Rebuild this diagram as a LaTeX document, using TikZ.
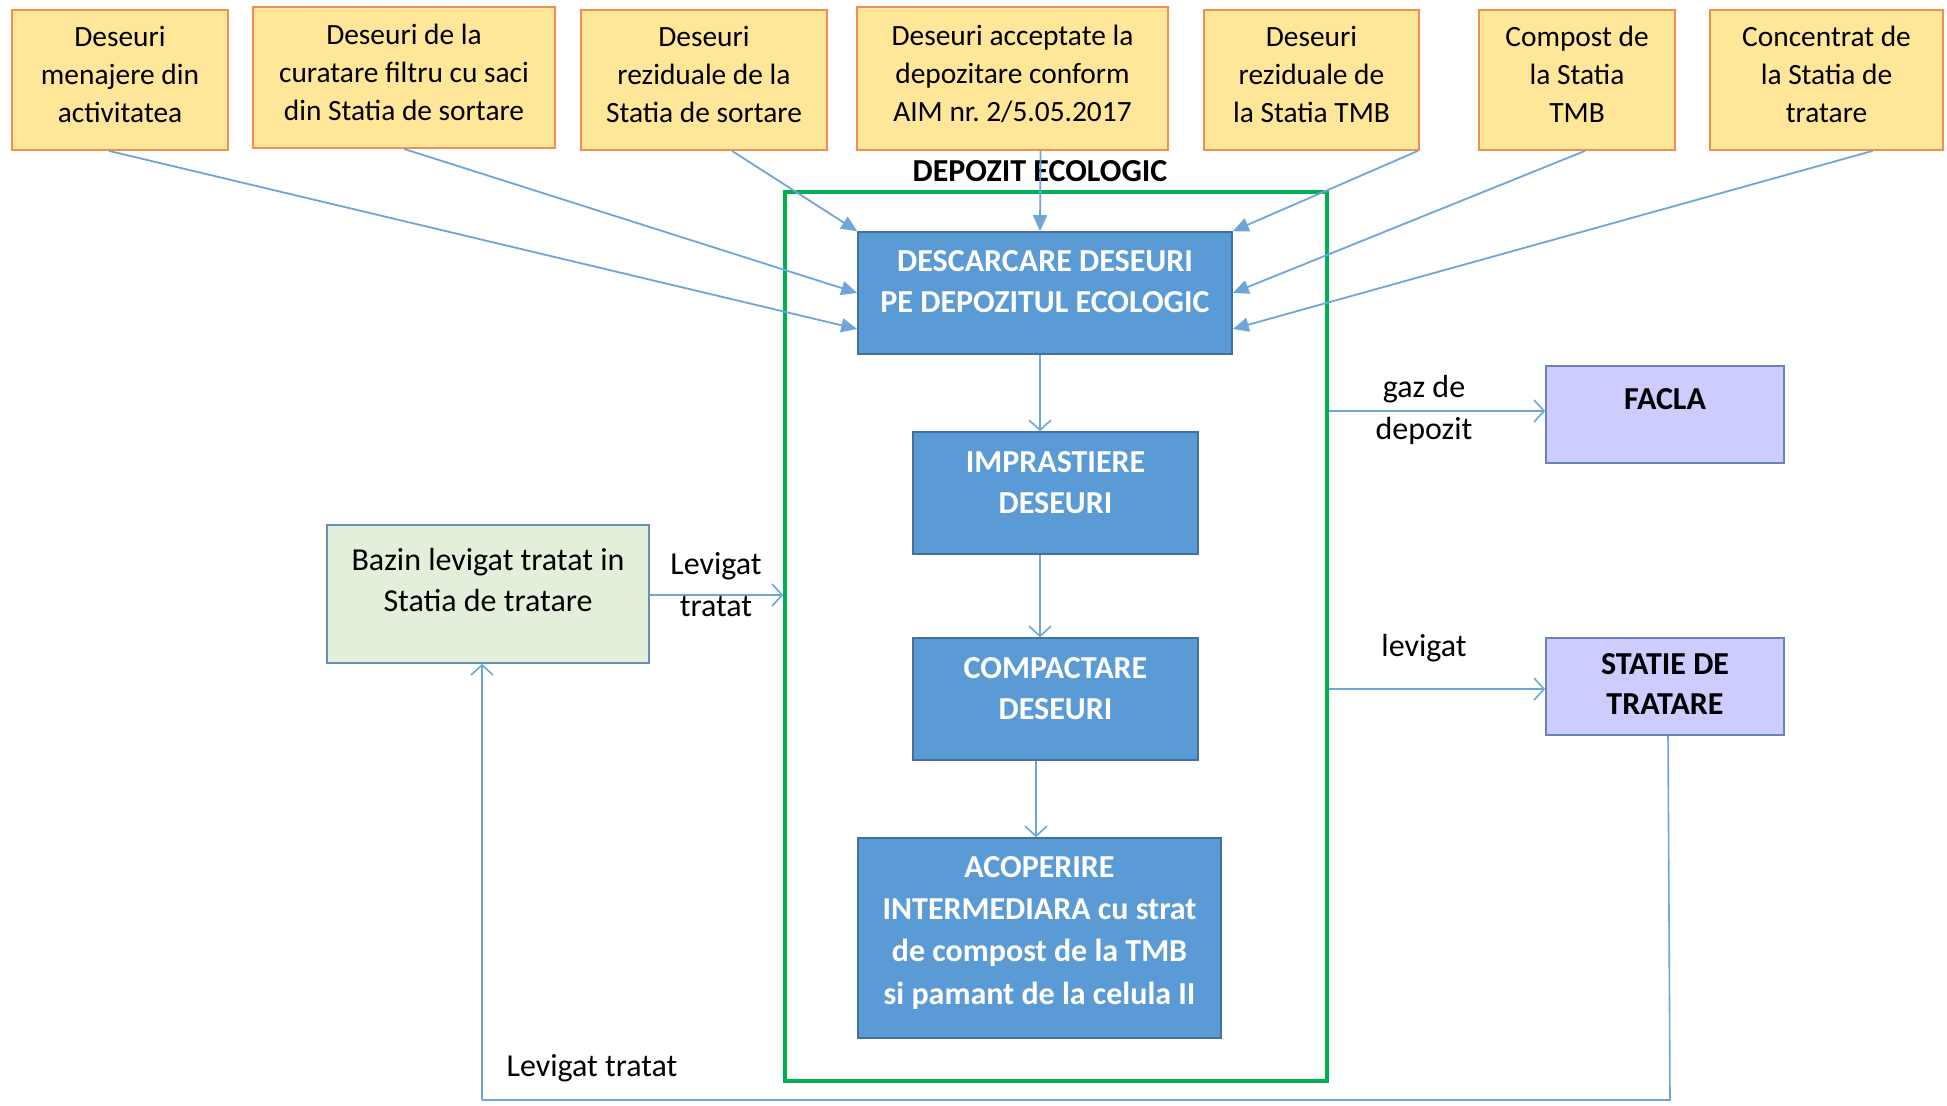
\documentclass[tikz,border=0pt]{standalone}
\usepackage{fontspec}
\setmainfont{Carlito}
\usetikzlibrary{arrows.meta}
\definecolor{topfill}{HTML}{FFE699}
\definecolor{topdraw}{HTML}{F0904E}
\definecolor{bluefill}{HTML}{5B9BD5}
\definecolor{bluedraw}{HTML}{41719C}
\definecolor{greenframe}{HTML}{00B050}
\definecolor{arrowblue}{HTML}{6FA6DA}
\definecolor{bazfill}{HTML}{E2EFDA}
\definecolor{purfill}{HTML}{CCCCFF}
\definecolor{purdraw}{HTML}{6A84B8}
\begin{document}
\begin{tikzpicture}[x=0.5pt,y=-0.5pt,
  topbox/.style={draw=topdraw, fill=topfill, line width=0.9pt, align=center,
    font=\fontsize{14.7}{19}\selectfont, inner sep=0pt, minimum height=70pt, text depth=5.5pt},
  bluebox/.style={draw=bluedraw, fill=bluefill, line width=0.8pt, inner sep=0pt},
  bluetext/.style={text=white, align=center, font=\fontsize{16}{20.5}\selectfont\bfseries, inner sep=0pt},
  sidebox/.style={draw=purdraw, fill=purfill, line width=0.9pt, inner sep=0pt,
    minimum width=119pt, minimum height=48.5pt},
  sidetext/.style={align=center, font=\fontsize{16}{20}\selectfont\bfseries, inner sep=0pt},
  lbl/.style={align=center, font=\fontsize{16}{21}\selectfont, inner sep=0pt},
  filledarrow/.style={draw=arrowblue, line width=0.9pt, -{Triangle[length=8pt,width=7pt]}},
  openarrow/.style={draw=arrowblue, line width=0.8pt, -{Straight Barb[length=5pt,width=11pt]}},
  plainline/.style={draw=arrowblue, line width=0.8pt}
]
\useasboundingbox (0,0) rectangle (1947,1105);
\fill[white] (0,0) rectangle (1947,1105);

% top source boxes
\node[topbox, minimum width=108pt] (t1) at (120,80) {Deseuri\\menajere din\\activitatea};
\node[topbox, minimum width=151pt, minimum height=70.5pt] (t2) at (404,77.5) {Deseuri de la\\curatare filtru cu saci\\din Statia de sortare};
\node[topbox, minimum width=123pt] (t3) at (704,80) {Deseuri\\reziduale de la\\Statia de sortare};
\node[topbox, minimum width=155.5pt, minimum height=71.5pt] (t4) at (1012.5,78.5) {Deseuri acceptate la\\depozitare conform\\AIM nr.\ 2/5.05.2017};
\node[topbox, minimum width=107.5pt] (t5) at (1311.5,80) {Deseuri\\reziduale de\\la Statia TMB};
\node[topbox, minimum width=98pt] (t6) at (1577,80) {Compost de\\la Statia\\TMB};
\node[topbox, minimum width=116.5pt] (t7) at (1826.5,80) {Concentrat de\\la Statia de\\tratare};

% green frame
\node[draw=greenframe, line width=1.8pt, minimum width=271pt, minimum height=444.5pt, inner sep=0pt] (dep) at (1056,636.5) {};
\node[font=\fontsize{16}{20}\selectfont\bfseries, inner sep=0pt] (deptitle) at (1040,171) {DEPOZIT ECOLOGIC};

% process boxes
\node[bluebox, minimum width=187pt, minimum height=61pt] (desc) at (1045,293) {};
\node[bluetext] (desct) at (1045,282) {DESCARCARE DESEURI\\PE DEPOZITUL ECOLOGIC};
\node[bluebox, minimum width=142.5pt, minimum height=61pt] (impr) at (1055.5,493) {};
\node[bluetext] (imprt) at (1055.5,482.5) {IMPRASTIERE\\DESEURI};
\node[bluebox, minimum width=142.5pt, minimum height=61pt] (comp) at (1055.5,699) {};
\node[bluetext] (compt) at (1055.5,688.5) {COMPACTARE\\DESEURI};
\node[bluebox, minimum width=181.5pt, minimum height=100pt] (acop) at (1039.5,938) {};
\node[bluetext, font=\fontsize{16}{21}\selectfont\bfseries] (acopt) at (1039.5,933) {ACOPERIRE\\INTERMEDIARA cu strat\\de compost de la TMB\\si pamant de la celula II};

% side boxes
\node[draw=bluedraw!80, fill=bazfill, line width=0.9pt, inner sep=0pt, minimum width=161pt, minimum height=69pt] (baz) at (488,594) {};
\node[lbl, font=\fontsize{16}{20.5}\selectfont] (bazt) at (488,580) {Bazin levigat tratat in\\Statia de tratare};
\node[sidebox] (facla) at (1665,414.5) {};
\node[sidetext] (faclat) at (1665,399) {FACLA};
\node[sidebox] (stat) at (1665,686.5) {};
\node[sidetext] (statt) at (1665,684) {STATIE DE\\TRATARE};

% inputs to DESCARCARE
\draw[filledarrow] ([xshift=-5.5pt]t1.south) -- ([yshift=-18pt]desc.west);
\draw[filledarrow] (t2.south) -- (desc.west);
\draw[filledarrow] ([xshift=14pt]t3.south) -- (desc.north west);
\draw[filledarrow] ([xshift=14pt]t4.south) -- ([xshift=-2.5pt]desc.north);
\draw[filledarrow] ([xshift=-1pt]t5.south east) -- (desc.north east);
\draw[filledarrow] ([xshift=4pt]t6.south) -- (desc.east);
\draw[filledarrow] ([xshift=23pt]t7.south) -- ([yshift=-18pt]desc.east);

% process chain
\draw[openarrow] ([xshift=-2.5pt]desc.south) -- ([xshift=-7.75pt]impr.north);
\draw[openarrow] ([xshift=-7.75pt]impr.south) -- ([xshift=-7.75pt]comp.north);
\draw[openarrow] ([xshift=-9.75pt]comp.south) -- ([xshift=-1.75pt]acop.north);

% outputs
\draw[openarrow] (dep.east |- 0,411) -- (facla.west |- 0,411);
\node[lbl] (gazl) at (1424,410) {gaz de\\depozit};
\draw[openarrow] (dep.east |- 0,689) -- (stat.west |- 0,689);
\node[lbl] (levl) at (1424,648) {levigat};
\draw[openarrow] (baz.east |- 0,595) -- (dep.west |- 0,595);
\node[lbl] (levtl) at (716,585) {Levigat\\tratat};

% return loop
\coordinate (r1) at (1670,1100);
\coordinate (r2) at (482,1100);
\draw[plainline] ([xshift=1.5pt]stat.south) -- (r1) -- (r2);
\draw[openarrow] (r2) -- (r2 |- baz.south);
\node[lbl] (levbot) at (592,1068) {Levigat tratat};
\end{tikzpicture}
\end{document}
